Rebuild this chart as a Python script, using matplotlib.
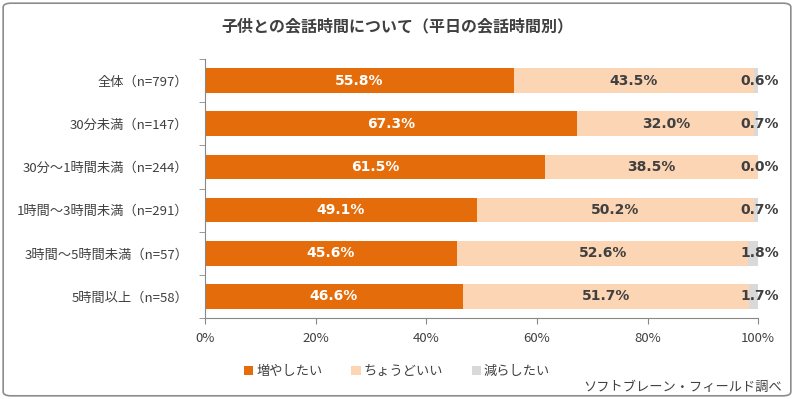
import matplotlib.pyplot as plt
import numpy as np
from matplotlib.patches import FancyBboxPatch

plt.rcParams['font.family'] = ['Noto Sans CJK JP', 'DejaVu Sans']

categories = ['全体（n=797）', '30分未満（n=147）', '30分～1時間未満（n=244）',
              '1時間～3時間未満（n=291）', '3時間～5時間未満（n=57）', '5時間以上（n=58）']
increase = [55.8, 67.3, 61.5, 49.1, 45.6, 46.6]
just_right = [43.5, 32.0, 38.5, 50.2, 52.6, 51.7]
decrease = [0.6, 0.7, 0.0, 0.7, 1.8, 1.7]
series_names = ['増やしたい', 'ちょうどいい', '減らしたい']
colors = ['#E46C0A', '#FCD5B5', '#D9D9D9']

fig = plt.figure(figsize=(7.94, 3.99), dpi=100)
fig.patches.append(FancyBboxPatch((0.004, 0.008), 0.992, 0.984, boxstyle='round,pad=0,rounding_size=0.01',
                                  transform=fig.transFigure, fill=False, edgecolor='#8c8c8c', lw=1.2))
ax = fig.add_axes([0.258, 0.203, 0.697, 0.649])

y = np.arange(len(categories))
left = np.zeros(len(categories))
for vals, col, name in zip([increase, just_right, decrease], colors, series_names):
    ax.barh(y, vals, left=left, height=0.57, color=col, label=name)
    left += np.array(vals)

for i in range(len(categories)):
    ax.text(increase[i] / 2, y[i], f'{increase[i]:.1f}%', ha='center', va='center',
            color='white', fontsize=10, fontweight='bold', family='DejaVu Sans')
    ax.text(increase[i] + just_right[i] / 2, y[i], f'{just_right[i]:.1f}%', ha='center', va='center',
            color='#404040', fontsize=10, fontweight='bold', family='DejaVu Sans')
    ax.text(100.3, y[i], f'{decrease[i]:.1f}%', ha='center', va='center',
            color='#404040', fontsize=10, fontweight='bold', family='DejaVu Sans')

ax.set_xlim(0, 100)
ax.set_ylim(len(categories) - 0.5, -0.5)
ax.set_yticks(y)
ax.set_yticklabels(categories, fontsize=9.5, color='#404040')
ax.set_yticks(np.arange(-0.5, len(categories), 1), minor=True)
ax.tick_params(axis='y', which='major', length=0, pad=12)
ax.tick_params(axis='y', which='minor', length=4, color='#888888')
ax.set_xticks([0, 20, 40, 60, 80, 100])
ax.set_xticklabels(['0%', '20%', '40%', '60%', '80%', '100%'], fontsize=9.5, color='#404040')
ax.tick_params(axis='x', length=4, color='#888888', pad=6)
for s in ['top', 'right']:
    ax.spines[s].set_visible(False)
ax.spines['left'].set_color('#888888')
ax.spines['bottom'].set_color('#888888')

fig.text(0.5, 0.935, '子供との会話時間について（平日の会話時間別）', ha='center', va='center',
         fontsize=11.5, fontweight='bold', color='#404040')
fig.legend(loc='center', bbox_to_anchor=(0.5, 0.068), ncol=3, frameon=False, fontsize=9.5,
           handlelength=0.7, handleheight=0.7, handletextpad=0.2, columnspacing=2.2,
           labelcolor='#404040')
fig.text(0.985, 0.03, 'ソフトブレーン・フィールド調べ', ha='right', va='center', fontsize=9.5, color='#404040')

fig.savefig('out.png', dpi=100)
